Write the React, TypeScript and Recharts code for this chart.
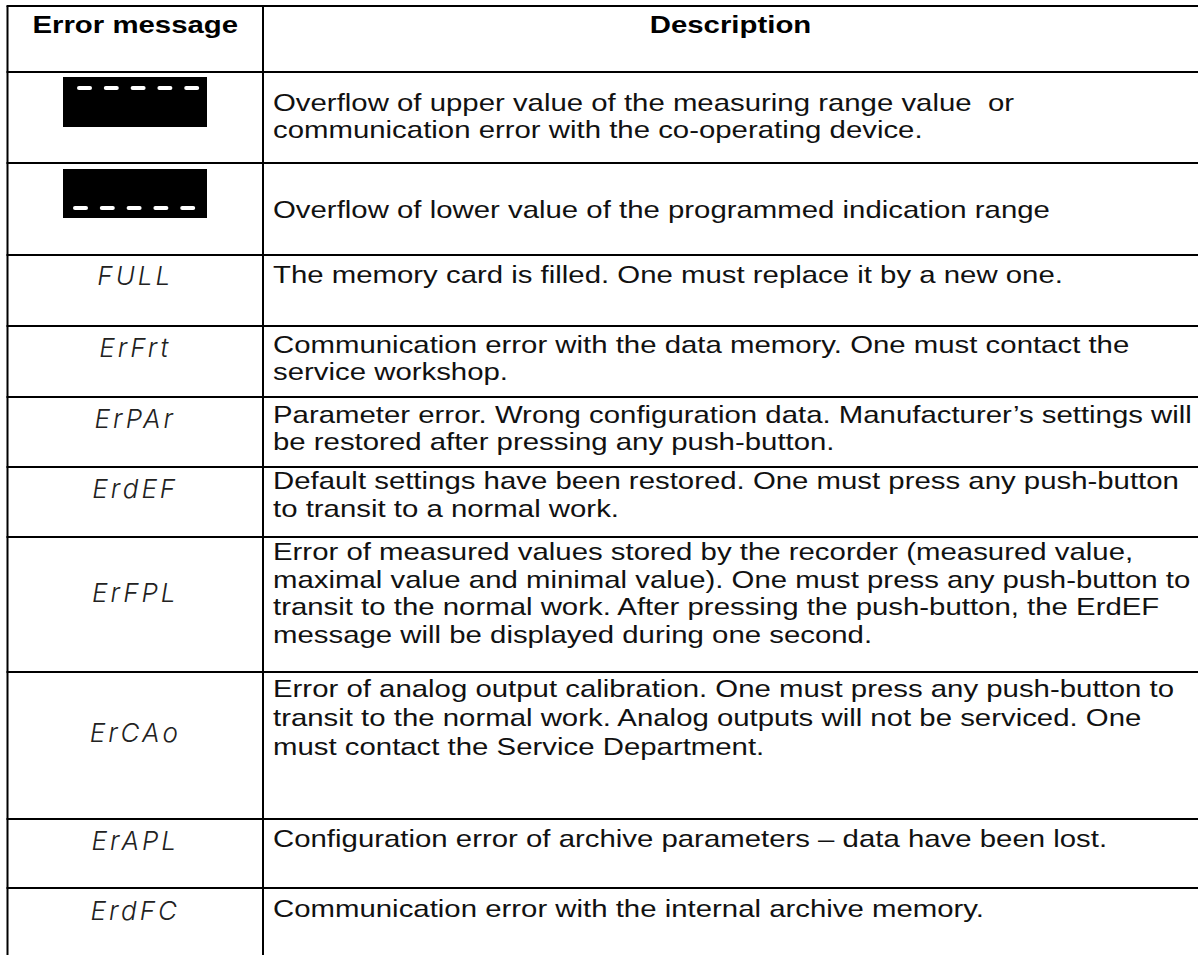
import React from 'react';
import { ComposedChart, XAxis, YAxis, ReferenceLine, Customized } from 'recharts';

// table geometry (px)
const rowHeights = [66, 91, 92, 71, 71, 70, 70, 135, 147, 69, 80];
const headers = ['Error message', 'Description'];
const codes = ['', '', 'FULL', 'ErFrt', 'ErPAr', 'ErdEF', 'ErFPL', 'ErCAo', 'ErAPL', 'ErdFC'];
const descriptions: string[][] = [
    ['Overflow of upper value of the measuring range value  or', 'communication error with the co-operating device.'],
    ['Overflow of lower value of the programmed indication range'],
    ['The memory card is filled. One must replace it by a new one.'],
    ['Communication error with the data memory. One must contact the', 'service workshop.'],
    ['Parameter error. Wrong configuration data. Manufacturer’s settings will', 'be restored after pressing any push-button.'],
    ['Default settings have been restored. One must press any push-button', 'to transit to a normal work.'],
    [
        'Error of measured values stored by the recorder (measured value,',
        'maximal value and minimal value). One must press any push-button to',
        'transit to the normal work. After pressing the push-button, the ErdEF',
        'message will be displayed during one second.',
    ],
    [
        'Error of analog output calibration. One must press any push-button to',
        'transit to the normal work. Analog outputs will not be serviced. One',
        'must contact the Service Department.',
    ],
    ['Configuration error of archive parameters – data have been lost.'],
    ['Communication error with the internal archive memory.'],
];
// overflow displays: dashes at top / bottom of the black box
const dashRows = ['top', 'bottom'];

// layout
const W = 1198;
const H = 955;
const TOP = 6;
const LEFT = 7.5;
const COL = 263;
const SX = 1.224;
const descFirst = [39, 55, 28, 27, 26, 22, 23, 25, 28, 29];
const descStep = [27, 27, 27, 27, 27, 28, 27.7, 29, 27, 27];
const codeFirst = [0, 0, 30, 31, 31, 31, 65, 70, 31, 32];

const bounds: number[] = [TOP];
rowHeights.forEach((h) => bounds.push(bounds[bounds.length - 1] + h));

const FONT = '"Liberation Sans", Arial, sans-serif';

function TableText() {
    const colMid = (COL + W) / 2;
    const firstMid = (LEFT + COL) / 2;
    return (
        <g>
            <g transform={`translate(${firstMid},33) scale(${SX},1)`}>
                <text textAnchor="middle" fontFamily={FONT} fontSize={24} fontWeight="bold" fill="#000">
                    {headers[0]}
                </text>
            </g>
            <g transform={`translate(${colMid},33) scale(${SX},1)`}>
                <text textAnchor="middle" fontFamily={FONT} fontSize={24} fontWeight="bold" fill="#000">
                    {headers[1]}
                </text>
            </g>
            {descriptions.map((lines, i) => {
                const top = bounds[i + 1];
                return lines.map((line, j) => (
                    <g key={`${i}-${j}`} transform={`translate(273,${top + descFirst[i] + j * descStep[i]}) scale(${SX},1)`}>
                        <text fontFamily={FONT} fontSize={24} fill="#111" style={{ whiteSpace: 'pre' }}>
                            {line}
                        </text>
                    </g>
                ));
            })}
            {codes.map((c, i) =>
                c ? (
                    <text
                        key={c}
                        x={firstMid}
                        y={bounds[i + 1] + codeFirst[i]}
                        textAnchor="middle"
                        fontFamily='Inter, "DejaVu Sans", sans-serif'
                        fontWeight={300}
                        fontStyle="oblique"
                        fontSize={26}
                        letterSpacing={3}
                        fill="#222"
                    >
                        {c}
                    </text>
                ) : null
            )}
            {dashRows.map((pos, i) => {
                const top = bounds[i + 1] + (i === 0 ? 5 : 6);
                const h = i === 0 ? 50 : 49;
                const dy = pos === 'top' ? 11 : h - 10;
                const x0 = pos === 'top' ? 77 : 73;
                return (
                    <g key={pos}>
                        <rect x={63} y={top} width={144} height={h} fill="#000" />
                        {[0, 1, 2, 3, 4].map((k) => (
                            <line
                                key={k}
                                x1={x0 + 2 + k * 26.8}
                                x2={x0 + 13 + k * 26.8}
                                y1={top + dy}
                                y2={top + dy}
                                stroke="#fff"
                                strokeWidth={4}
                                strokeLinecap="round"
                            />
                        ))}
                    </g>
                );
            })}
        </g>
    );
}

export default function App() {
    return (
        <div style={{ position: 'absolute', left: 0, top: 0, width: W, height: H, background: '#fff' }}>
            <ComposedChart width={W} height={H} data={[]} margin={{ top: 0, right: 0, bottom: 0, left: 0 }}>
                <XAxis type="number" dataKey="x" domain={[0, W]} allowDataOverflow hide />
                <YAxis type="number" dataKey="y" domain={[0, H]} allowDataOverflow reversed hide />
                {bounds.slice(0, -1).map((b) => (
                    <ReferenceLine
                        key={b}
                        segment={[{ x: LEFT - 1, y: b }, { x: W, y: b }]}
                        stroke="#000"
                        strokeWidth={2}
                        ifOverflow="visible"
                    />
                ))}
                <ReferenceLine segment={[{ x: LEFT, y: TOP }, { x: LEFT, y: H }]} stroke="#000" strokeWidth={2} ifOverflow="visible" />
                <ReferenceLine segment={[{ x: COL, y: TOP }, { x: COL, y: H }]} stroke="#000" strokeWidth={2} ifOverflow="visible" />
                <Customized component={TableText} />
            </ComposedChart>
        </div>
    );
}
